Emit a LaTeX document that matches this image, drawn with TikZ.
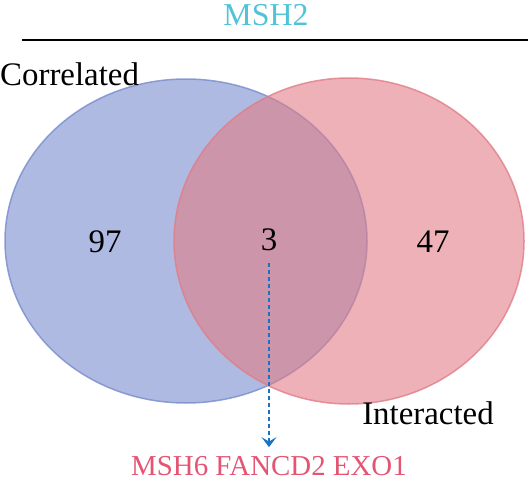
\documentclass[tikz,border=0pt]{standalone}
\usepackage{fontspec}
\setmainfont{Liberation Serif}
\usetikzlibrary{arrows.meta,calc}
\definecolor{setblue}{RGB}{120,140,205}
\definecolor{setred}{RGB}{225,125,135}
\definecolor{titlecyan}{RGB}{80,195,215}
\definecolor{genered}{RGB}{228,85,115}
\definecolor{arrowblue}{RGB}{25,115,195}

\begin{document}
\begin{tikzpicture}
[x=1bp,y=-1bp,%
  every node/.style={inner sep=0pt,font=\fontsize{33}{38}\selectfont},%
  set/.style={fill opacity=0.6,draw opacity=0.8,line width=1.5bp}]
\useasboundingbox (0,0) rectangle (528,491);
% the two sets
\draw[set,fill=setblue,draw=setblue] (186,241) ellipse [x radius=181,y radius=162];
\draw[set,fill=setred,draw=setred] (349,241) ellipse [x radius=175,y radius=163];
% title
\node[titlecyan,font=\fontsize{32}{36}\selectfont] (title) at (266,15) {MSH2};
\coordinate (rulel) at (22,40);
\coordinate (ruler) at (528,40);
\draw[line width=2bp] (rulel) -- (ruler);
% labels
\node[anchor=west] (corr) at (0,74) {Correlated};
\node (inter) at (428,413) {Interacted};
\node (left) at (105,242) {97};
\node (mid) at (269,240) {3};
\node (right) at (433,242) {47};
\node[genered,font=\fontsize{29}{34}\selectfont] (genes) at (269,466) {MSH6 FANCD2 EXO1};
\coordinate (arrstart) at ($(mid.south)+(0,12)$);
\coordinate (arrend) at ($(mid.south |- genes.north)+(0,-9)$);
\draw[arrowblue,line width=2.5bp,dash pattern=on 3.5bp off 3.5bp,-{Stealth[length=10bp,width=15bp,inset=4.5bp]}]
  (arrstart) -- (arrend);
\end{tikzpicture}
\end{document}
